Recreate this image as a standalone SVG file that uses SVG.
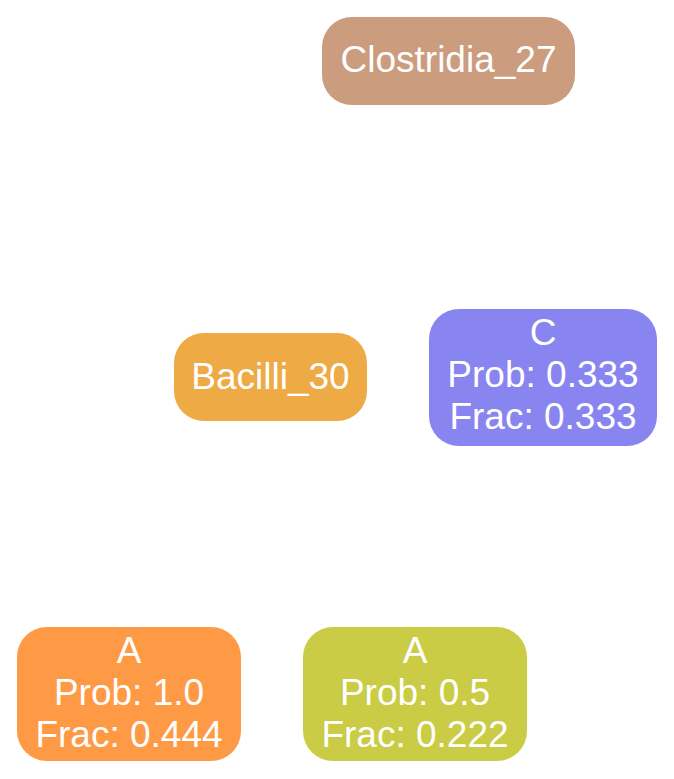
<svg xmlns="http://www.w3.org/2000/svg" width="674" height="779" viewBox="0 0 674 779">
<style>
.n rect{stroke:none}
.n text{font-family:"Liberation Sans",Arial,Helvetica,sans-serif;font-size:37px;fill:#ffffff;text-anchor:middle}
</style>
<rect width="674" height="779" fill="#ffffff"/>
<g id="connectors"></g>
<g id="clostridia_27" class="n">
<rect x="322" y="17" width="253" height="88" rx="30" fill="#CB9C7D"/>
<text x="448.5" y="72">Clostridia_27</text>
</g>
<g id="bacilli_30" class="n">
<rect x="174" y="333" width="193" height="88" rx="30" fill="#EDAA45"/>
<text x="270.5" y="389">Bacilli_30</text>
</g>
<g id="leaf_C" class="n">
<rect x="429" y="309" width="228" height="137" rx="30" fill="#8884F0"/>
<text x="543" y="345">C</text>
<text x="543" y="387">Prob: 0.333</text>
<text x="543" y="429">Frac: 0.333</text>
</g>
<g id="leaf_A1" class="n">
<rect x="17" y="627" width="224" height="134" rx="30" fill="#FE9A45"/>
<text x="129" y="663">A</text>
<text x="129" y="705">Prob: 1.0</text>
<text x="129" y="747">Frac: 0.444</text>
</g>
<g id="leaf_A2" class="n">
<rect x="303" y="627" width="224" height="134" rx="30" fill="#CACC45"/>
<text x="415" y="663">A</text>
<text x="415" y="705">Prob: 0.5</text>
<text x="415" y="747">Frac: 0.222</text>
</g>
</svg>
